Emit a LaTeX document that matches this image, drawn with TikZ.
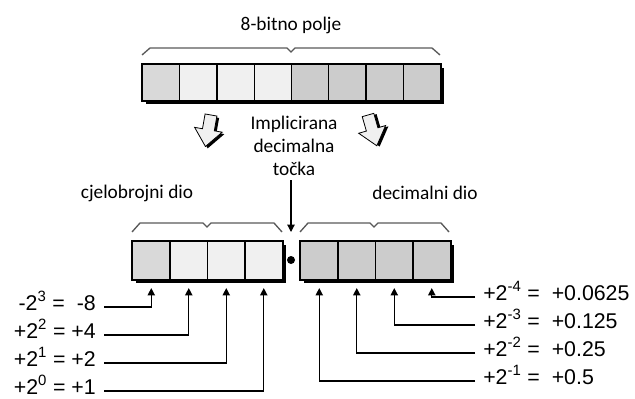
\documentclass[tikz,border=0pt]{standalone}
\usepackage{fontspec}
\setmainfont{Carlito}
\newfontfamily\arialfont{Liberation Sans}
\usetikzlibrary{arrows.meta,calc}

\definecolor{sivaA}{gray}{0.85}
\definecolor{sivaB}{gray}{0.94}
\definecolor{sivaC}{gray}{0.80}

\begin{document}
\begin{tikzpicture}[x=0.75pt,y=-0.75pt,
  celija/.style={draw,line width=0.8pt,minimum width=27.9pt,minimum height=27pt,inner sep=0pt,anchor=north west},
  celijad/.style={celija,minimum width=28.1pt,minimum height=28.5pt},
  zagrada/.style={draw=black!65,line width=1pt},
  strelica/.style={line width=0.9pt,-{Triangle[length=5.5pt,width=5.5pt]}},
  natpis/.style={font=\arialfont\fontsize{16}{18}\selectfont,inner xsep=6pt},
  tekst/.style={font=\fontsize{14.5}{17.25}\selectfont}]

\useasboundingbox (0,0) rectangle (635,399);

% gornje polje
\fill (146,68) rectangle (444,104);
\foreach \i/\b in {0/sivaA,1/sivaB,2/sivaB,3/sivaB,4/sivaC,5/sivaC,6/sivaC,7/sivaC}
  \node[celija,fill=\b] (g\i) at ({142+37.25*\i},64) {};
\draw[line width=1.2pt] (g0.north west) rectangle (g7.south east);
\draw[zagrada] (142,55) -- (150,48) -- (287,48) -- (291,52) -- (295,48) -- (432,48) -- (440,55);
\node[tekst] (naslov) at (291,25) {8-bitno polje};

% donja polja
\fill (136,245) rectangle (286,283);
\fill (304,245) rectangle (454,283);
\foreach \i/\b in {0/sivaA,1/sivaB,2/sivaB,3/sivaB}
  \node[celijad,fill=\b] (d\i) at ({132+37.5*\i},241) {};
\foreach \i in {0,...,3}
  \node[celijad,fill=sivaC] (e\i) at ({300+37.5*\i},241) {};
\draw[line width=1.2pt] (d0.north west) rectangle (d3.south east);
\draw[line width=1.2pt] (e0.north west) rectangle (e3.south east);
\draw[zagrada] (132,232) -- (140,223) -- (203,223) -- (207,227) -- (211,223) -- (274,223) -- (282,232);
\draw[zagrada] (300,232) -- (308,223) -- (370,223) -- (374,227) -- (378,223) -- (441,223) -- (449,232);
\node[circle,fill,inner sep=0pt,minimum size=6pt] (tocka) at (291,260) {};

% velike strelice
\foreach \x/\k in {211/-10,368/16} {
  \begin{scope}[shift={(\x,115)},rotate=\k]
    \fill (-3.5,1.5) -- (8.5,1.5) -- (8.5,16.5) -- (16.5,16.5) -- (2.5,33.5) -- (-11.5,16.5) -- (-3.5,16.5) -- cycle;
    \draw[line width=0.6pt,fill=gray!12] (-6,0) -- (6,0) -- (6,15) -- (14,15) -- (0,32) -- (-14,15) -- (-6,15) -- cycle;
  \end{scope}
}

\node[tekst,align=center] (impl) at (294,146) {Implicirana\\decimalna\\točka};
\node[tekst] (cjeli) at (137,193) {cjelobrojni dio};
\node[tekst] (decim) at (425,193) {decimalni dio};
\coordinate (vrh) at (291,232);
\draw[strelica] (impl.south -| vrh) -- (vrh);

% tezine bitova
\foreach \i/\y/\t in {0/307/{-2\textsuperscript{3} = \ -8},1/335/{+2\textsuperscript{2} = +4},2/363/{+2\textsuperscript{1} = +2},3/391/{+2\textsuperscript{0} = +1}} {
  \node[natpis,anchor=mid east] (l\i) at (104,\y) {\t};
  \draw[strelica] (l\i.mid east) -| ($(d\i.south)+(0,8)$);
}
\foreach \i/\y/\t in {3/297/{+2\textsuperscript{-4} = \ +0.0625},2/325/{+2\textsuperscript{-3} = \ +0.125},1/353/{+2\textsuperscript{-2} = \ +0.25},0/381/{+2\textsuperscript{-1} = \ +0.5}} {
  \node[natpis,anchor=mid west] (r\i) at (475,\y) {\t};
  \draw[strelica] (r\i.mid west) -| ($(e\i.south)+(0,8)$);
}
\end{tikzpicture}
\end{document}
